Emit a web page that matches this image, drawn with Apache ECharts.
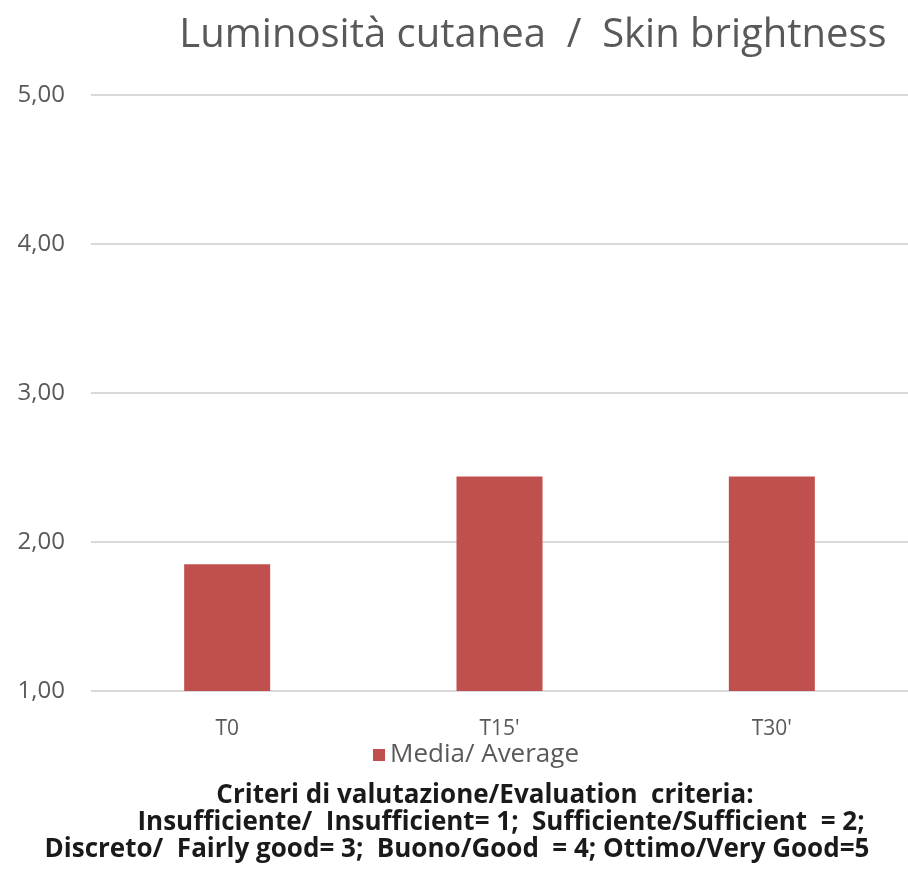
<!DOCTYPE html>
<html>
<head>
<meta charset="utf-8">
<script src="https://cdn.jsdelivr.net/npm/echarts@6/dist/echarts.min.js"></script>
<style>
  html, body { margin: 0; padding: 0; background: #ffffff; }
  #chart { width: 908px; height: 874px; }
</style>
</head>
<body>
<div id="chart"></div>
<script>
// dati
var categories = ["T0", "T15'", "T30'"];
var mediaValues = [1.85, 2.44, 2.44];
var yTicks = [1, 2, 3, 4, 5];
var criteriaLines = [
  "Criteri di valutazione/Evaluation  criteria:",
  "Insufficiente/  Insufficient= 1;  Sufficiente/Sufficient  = 2;",
  "Discreto/  Fairly good= 3;  Buono/Good  = 4; Ottimo/Very Good=5"
];

var chart = echarts.init(document.getElementById('chart'));

var font = "'Open Sans', sans-serif";

var option = {
  backgroundColor: '#ffffff',
  animation: false,
  title: {
    text: 'Luminosità cutanea  /  Skin brightness',
    left: 528,
    top: 11,
    textAlign: 'center',
    textStyle: {
      color: '#595959',
      fontSize: 40,
      fontWeight: 'normal',
      fontFamily: font
    }
  },
  legend: {
    data: ['Media/ Average'],
    left: 368,
    top: 737,
    itemWidth: 12,
    itemHeight: 12,
    itemGap: 5,
    icon: 'rect',
    textStyle: { color: '#595959', fontSize: 26, fontFamily: font }
  },
  grid: {
    left: 91,
    right: 0,
    top: 95,
    bottom: 874 - 691
  },
  xAxis: {
    type: 'category',
    data: categories,
    axisLine: { show: false },
    axisTick: { show: false },
    axisLabel: { color: '#595959', fontSize: 21, margin: 28, fontFamily: font }
  },
  yAxis: {
    type: 'value',
    min: yTicks[0],
    max: yTicks[yTicks.length - 1],
    interval: 1,
    axisLine: { show: false },
    axisTick: { show: false },
    axisLabel: {
      color: '#595959',
      fontSize: 24,
      margin: 26,
      fontFamily: font,
      formatter: function (v) { return v.toFixed(2).replace('.', ','); }
    },
    splitLine: { lineStyle: { color: '#d9d9d9', width: 2 } }
  },
  series: [{
    name: 'Media/ Average',
    type: 'bar',
    data: mediaValues,
    barWidth: 86,
    itemStyle: { color: '#c0504d' }
  }],
  graphic: criteriaLines.map(function (t, i) {
    var xs = [485, 501, 457];
    return {
      type: 'text',
      x: xs[i],
      y: 796 + i * 27,
      style: {
        text: t,
        fill: '#1a1a1a',
        font: 'bold 26px ' + font,
        textAlign: 'center',
        textVerticalAlign: 'middle'
      }
    };
  })
};

chart.setOption(option);
</script>
</body>
</html>
